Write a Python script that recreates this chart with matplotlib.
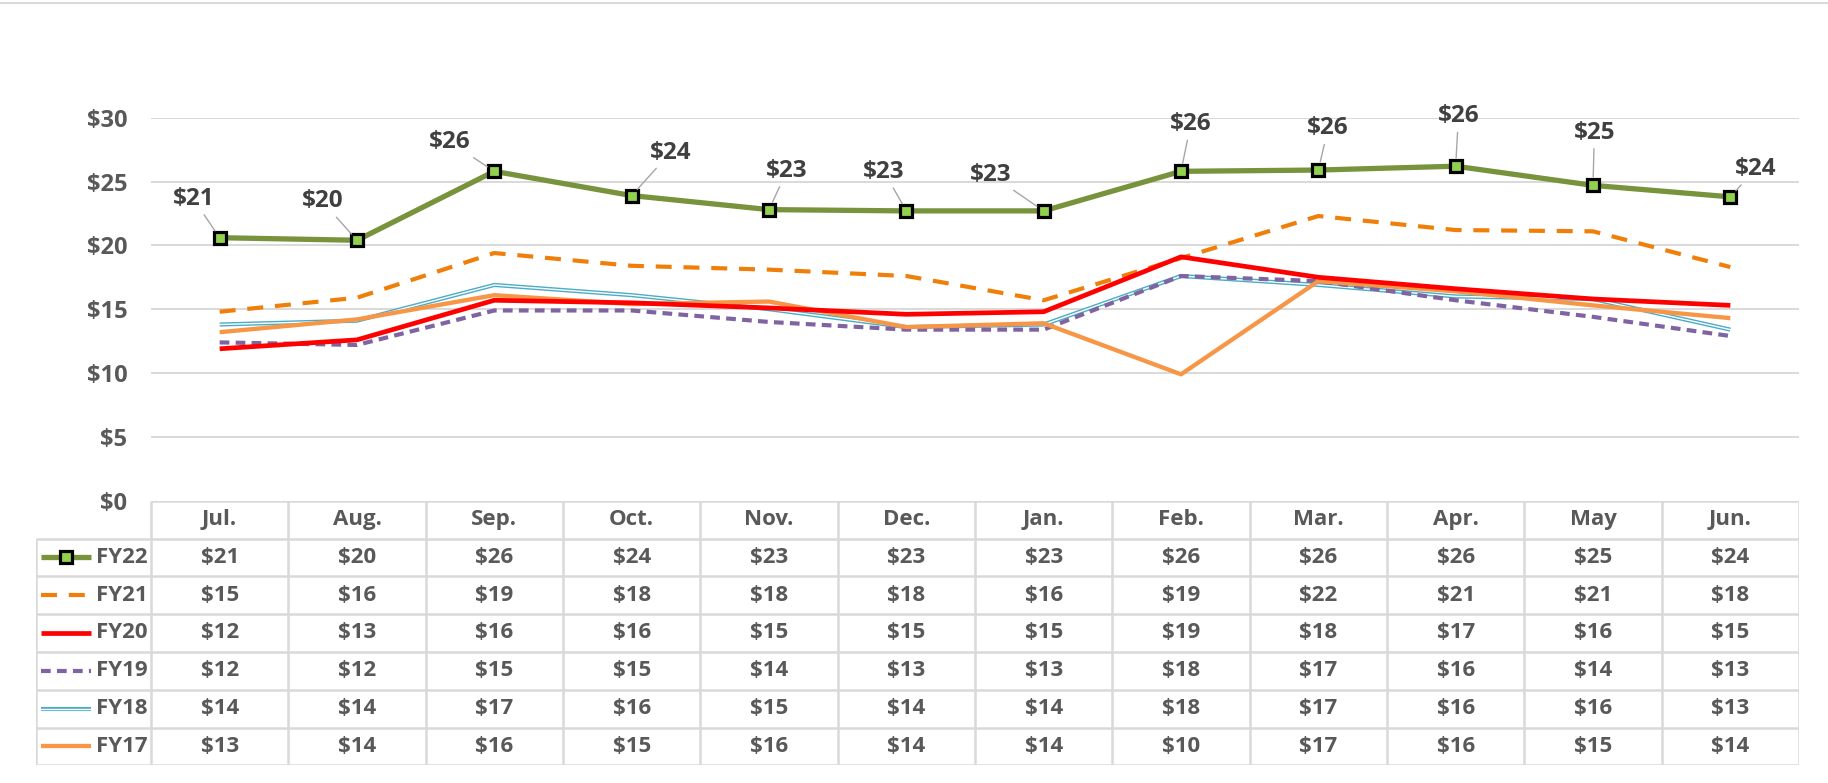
import matplotlib
matplotlib.use("Agg")
import matplotlib.pyplot as plt

plt.rcParams['font.family'] = ['Open Sans', 'DejaVu Sans']
plt.rcParams['font.weight'] = 'bold'
plt.rcParams['lines.scale_dashes'] = False

months = ["Jul.", "Aug.", "Sep.", "Oct.", "Nov.", "Dec.", "Jan.", "Feb.", "Mar.", "Apr.", "May", "Jun."]
names = ["FY22", "FY21", "FY20", "FY19", "FY18", "FY17"]

fy22 = [20.6, 20.4, 25.8, 23.9, 22.8, 22.7, 22.7, 25.8, 25.9, 26.2, 24.7, 23.8]
fy21 = [14.8, 15.9, 19.4, 18.4, 18.1, 17.6, 15.7, 19.0, 22.3, 21.2, 21.1, 18.3]
fy20 = [11.9, 12.6, 15.7, 15.5, 15.1, 14.6, 14.8, 19.1, 17.5, 16.6, 15.8, 15.3]
fy19 = [12.4, 12.2, 14.9, 14.9, 14.0, 13.4, 13.4, 17.6, 17.2, 15.7, 14.4, 12.9]
fy18 = [13.8, 14.1, 16.9, 16.1, 15.0, 13.6, 13.8, 17.6, 16.9, 16.0, 15.8, 13.4]
fy17 = [13.2, 14.2, 16.1, 15.4, 15.6, 13.6, 13.9, 9.9, 17.2, 16.4, 15.3, 14.3]
values = [fy22, fy21, fy20, fy19, fy18, fy17]

# label offsets (points) for the FY22 data labels
label_offsets = [(-19, 28), (-25, 28), (-32, 21), (28, 31), (13, 28), (-16, 28),
                 (-38, 26), (7, 34), (7, 30), (2, 36), (1, 38), (18, 20)]

styles = {
    "FY22": dict(color="#77933C", lw=3.8, marker="s", ms=8.5, mfc="#92D050", mec="black", mew=2.3),
    "FY21": dict(color="#F07F0A", lw=3.0, dashes=(11.5, 8.5)),
    "FY20": dict(color="#FF0000", lw=3.4),
    "FY19": dict(color="#8064A2", lw=3.0, dashes=(7, 4.5)),
    "FY18": dict(color="#4BACC6", lw=3.0),
    "FY17": dict(color="#F79646", lw=3.1),
}
zorders = {"FY22": 10, "FY21": 5, "FY20": 6, "FY19": 3, "FY18": 2, "FY17": 4}

W, H = 1828, 783
grey = "#595959"
grid_c = "#D9D9D9"
fs = 16

fig = plt.figure(figsize=(W / 100, H / 100), dpi=100)

# pixel geometry
left, right = 151, 1799
top, bottom = 117.7, 500.7
leg_left = 35.7
tab_bottom = 765.3

ax = fig.add_axes([left / W, 1 - bottom / H, (right - left) / W, (bottom - top) / H])
ax.set_xlim(0, 12)
ax.set_ylim(0, 30)
ax.set_yticks(range(0, 31, 5))
ax.set_yticklabels(["${}".format(v) for v in range(0, 31, 5)], fontsize=fs + 1,
                   color=grey, fontweight="bold")
ax.tick_params(axis="y", length=0, pad=17)
ax.set_xticks([])
for s in ax.spines.values():
    s.set_visible(False)
for v in range(5, 31, 5):
    ax.axhline(v, color=grid_c, lw=1.4, zorder=0)

x = [i + 0.5 for i in range(12)]


def draw_series(a, xs, ys, name, z, markevery=None):
    st = dict(styles[name])
    dashes = st.pop("dashes", None)
    ln, = a.plot(xs, ys, solid_capstyle="butt", zorder=z, clip_on=False,
                 markevery=markevery, **st)
    if dashes:
        ln.set_dashes(dashes)
        ln.set_dash_capstyle("butt")
    if name == "FY18":
        a.plot(xs, ys, color="white", lw=1.0, zorder=z + 0.1, clip_on=False)
    return ln


for name, ys in zip(names, values):
    draw_series(ax, x, ys, name, zorders[name])

for i, v in enumerate(fy22):
    ax.annotate("${:.0f}".format(v), xy=(x[i], v), xytext=label_offsets[i],
                textcoords="offset points", ha="center", va="center",
                fontsize=fs + 1.5, color="#404040", fontweight="bold", zorder=12,
                annotation_clip=False,
                arrowprops=dict(arrowstyle="-", color="#A6A6A6", lw=1.0,
                                shrinkA=1, shrinkB=6))

# data table below the plot
tab = fig.add_axes([leg_left / W, 1 - tab_bottom / H, (right - leg_left) / W, (tab_bottom - bottom) / H])
tab.set_xlim(leg_left, right)
tab.set_ylim(tab_bottom, bottom)
tab.axis("off")

n_rows = 7
row_h = (tab_bottom - bottom) / n_rows
col_w = (right - left) / 12
lc = dict(color=grid_c, lw=1.8, solid_capstyle="butt")

# horizontal lines
tab.plot([left, right], [bottom, bottom], **lc)
for r in range(1, n_rows + 1):
    y = bottom + r * row_h
    tab.plot([leg_left, right], [y, y], **lc)
# vertical lines
for c in range(13):
    xc = left + c * col_w
    tab.plot([xc, xc], [bottom, tab_bottom], **lc)
tab.plot([leg_left, leg_left], [bottom + row_h, tab_bottom], **lc)

for c, m in enumerate(months):
    tab.text(left + (c + 0.5) * col_w, bottom + 0.5 * row_h, m, ha="center", va="center",
             fontsize=fs, color=grey, fontweight="bold")

for r, (name, ys) in enumerate(zip(names, values)):
    yc = bottom + (r + 1.5) * row_h
    draw_series(tab, [41, 66, 91], [yc, yc, yc], name, 5, markevery=[1])
    tab.text(148, yc, name, ha="right", va="center", fontsize=fs, color=grey,
             fontweight="bold")
    for c, v in enumerate(ys):
        tab.text(left + (c + 0.5) * col_w, yc, "${:.0f}".format(v), ha="center", va="center",
                 fontsize=fs, color=grey, fontweight="bold")

# thin border line at the top of the image
fig.add_artist(plt.Line2D([0, 1], [1 - 2.5 / H, 1 - 2.5 / H], color=grid_c, lw=1.5))

fig.savefig("out.png", dpi=100, facecolor="white")
